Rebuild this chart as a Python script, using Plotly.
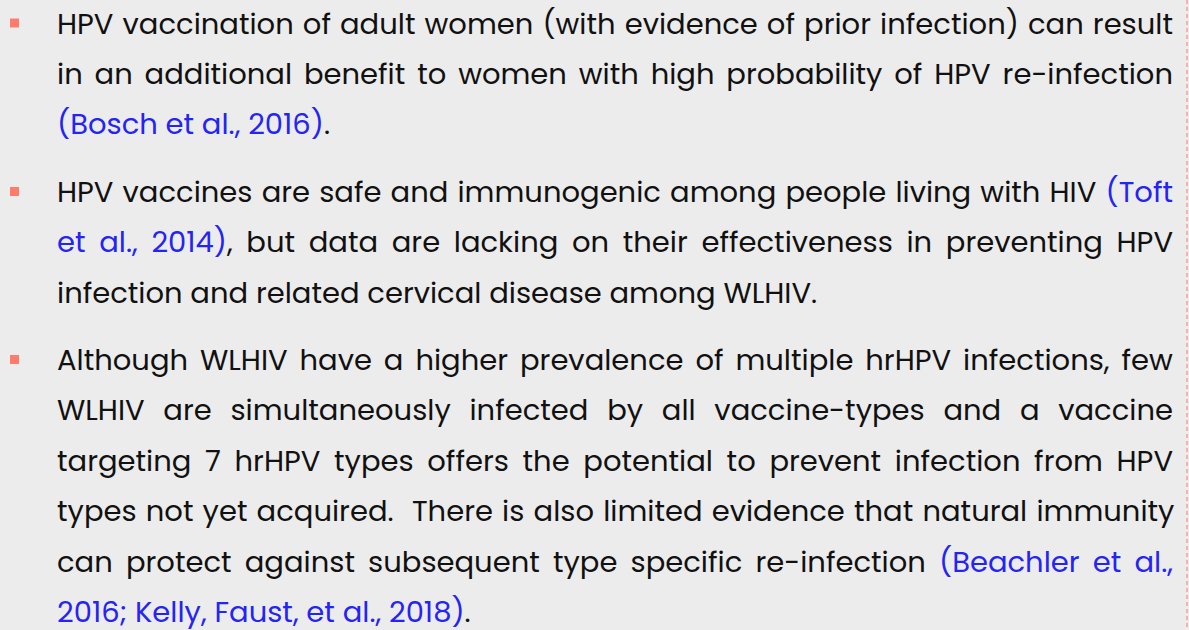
import plotly.graph_objects as go

BLACK = "#111111"
BLUE = "#2424F5"
BULLET = "#FF7B6B"

# Each line: list of (text, colour-key) segments; bool = justified
para1 = [
    ([("HPV vaccination of adult women (with evidence of prior infection) can result", "k")], True),
    ([("in an additional benefit to women with high probability of HPV re-infection", "k")], True),
    ([("(Bosch et al., 2016)", "b"), (".", "k")], False),
]
para2 = [
    ([("HPV vaccines are safe and immunogenic among people living with HIV ", "k"), ("(Toft", "b")], True),
    ([("et al., 2014)", "b"), (", but data are lacking on their effectiveness in preventing HPV", "k")], True),
    ([("infection and related cervical disease among WLHIV.", "k")], False),
]
para3 = [
    ([("Although WLHIV have a higher prevalence of multiple hrHPV infections, few", "k")], True),
    ([("WLHIV are simultaneously infected by all vaccine-types and a vaccine", "k")], True),
    ([("targeting 7 hrHPV types offers the potential to prevent infection from HPV", "k")], True),
    ([("types not yet acquired.  There is also limited evidence that natural immunity", "k")], True),
    ([("can protect against subsequent type specific re-infection ", "k"), ("(Beachler et al.,", "b")], True),
    ([("2016; Kelly, Faust, et al., 2018)", "b"), (".", "k")], False),
]
paragraphs = [para1, para2, para3]

# layout (pixel coordinates)
W, H = 1189, 630
first_baselines = [33.5, 202, 370]
line_step = 50.4
text_x = 55
bullet_x = 14.5
right_edge = 1173
font_size = 29
FONT = "Poppins, Inter, 'Open Sans', sans-serif"

fig = go.Figure()
colors = {"k": BLACK, "b": BLUE}

annotations = []
justify_idx = []
bx, by = [], []
for p, base in zip(paragraphs, first_baselines):
    bx.append(bullet_x)
    by.append(base - 10.5)
    for i, (segs, just) in enumerate(p):
        txt = "".join(
            f"<span style='color:{colors[c]}'>{s}</span>" for s, c in segs
        )
        if just:
            justify_idx.append(len(annotations))
        annotations.append(dict(
            x=text_x, y=base + i * line_step - 10, xref="x", yref="y",
            xanchor="left", yanchor="middle", text=txt, showarrow=False,
            font=dict(family=FONT, size=font_size, color=BLACK),
        ))

fig.add_trace(go.Scatter(
    x=bx, y=by, mode="markers", hoverinfo="skip",
    marker=dict(symbol="square", size=9, color=BULLET, line=dict(width=0)),
))

fig.add_shape(type="line", x0=1187, x1=1187, y0=0, y1=H, xref="x", yref="y",
              line=dict(color=BULLET, width=1, dash="4px,3px"))

fig.update_layout(
    width=W, height=H, margin=dict(l=0, r=0, t=0, b=0),
    paper_bgcolor="#ECECEC", plot_bgcolor="#ECECEC",
    showlegend=False, annotations=annotations,
    xaxis=dict(range=[0, W], visible=False, fixedrange=True),
    yaxis=dict(range=[H, 0], visible=False, fixedrange=True),
)

js = """
document.body.style.margin = '0';
document.body.style.background = '#ECECEC';
var gd = document.getElementById('{plot_id}');
var idx = %s;
var target = %d;
gd.querySelectorAll('g.annotation').forEach(function(g){
  var i = +g.getAttribute('data-index');
  if (idx.indexOf(i) < 0) return;
  var t = g.querySelector('text.annotation-text');
  if (!t) return;
  var b0 = t.getBBox();
  var w = b0.width;
  var s = (t.textContent.match(/ +/g) || []).length;
  if (!s) return;
  t.style.wordSpacing = ((target - w) / s) + 'px';
  var b1 = t.getBBox();
  var dx = b0.x - b1.x;
  t.setAttribute('x', (+t.getAttribute('x') || 0) + dx);
  t.querySelectorAll('tspan[x]').forEach(function(ts){
    ts.setAttribute('x', (+ts.getAttribute('x') || 0) + dx);
  });
});
""" % (justify_idx, right_edge - text_x - 2)

fig.write_html("out.html", post_script=js, config={"displayModeBar": False})
